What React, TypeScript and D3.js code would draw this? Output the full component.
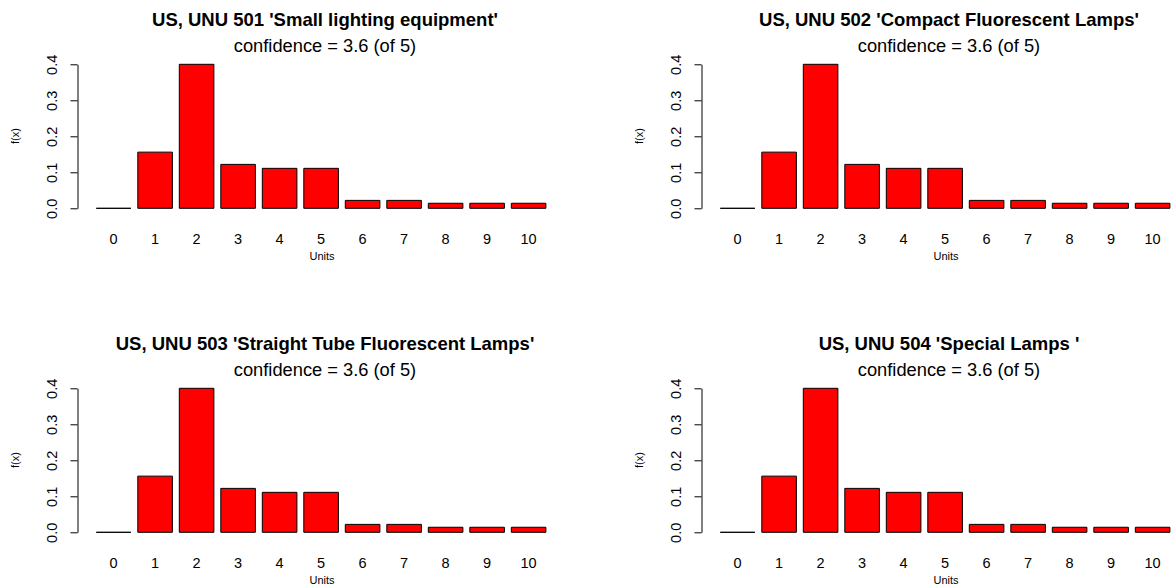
import React, { useEffect, useRef } from "react";
import * as d3 from "d3";

// bar categories (units) and probabilities f(x)
const units = ["0", "1", "2", "3", "4", "5", "6", "7", "8", "9", "10"];
const fx = [0, 0.156, 0.4, 0.122, 0.111, 0.111, 0.022, 0.022, 0.014, 0.014, 0.014];
const yTicks = [0, 0.1, 0.2, 0.3, 0.4];

const titles = [
  "US, UNU 501 'Small lighting equipment'",
  "US, UNU 502 'Compact Fluorescent Lamps'",
  "US, UNU 503 'Straight Tube Fluorescent Lamps'",
  "US, UNU 504 'Special Lamps '",
];
const subtitles = [
  "confidence = 3.6 (of 5)",
  "confidence = 3.6 (of 5)",
  "confidence = 3.6 (of 5)",
  "confidence = 3.6 (of 5)",
];

const W = 1174;
const H = 587;
const FONT = "'Liberation Sans', Arial, Helvetica, sans-serif";

export default function App() {
  const ref = useRef(null);

  useEffect(() => {
    const svg = d3.select(ref.current);
    svg.selectAll("*").remove();

    const axisX = 77.5; // y axis position inside a panel
    const x = d3
      .scaleBand()
      .domain(units)
      .range([96.3, 545.9])
      .paddingInner(1 / 6)
      .paddingOuter(0);
    const y = d3.scaleLinear().domain([0, 0.4]).range([208.3, 64.3]);
    const centerX = 325;

    const offsets = [
      [0, 0],
      [624, 0],
      [0, 324],
      [624, 324],
    ];

    // bar outline as a path so a zero bar still shows as a line
    const barPath = (d, i) => {
      const p = d3.path();
      const x0 = x(units[i]);
      const x1 = x0 + x.bandwidth();
      p.moveTo(x0, y(0));
      p.lineTo(x0, y(d));
      p.lineTo(x1, y(d));
      p.lineTo(x1, y(0));
      p.closePath();
      return p.toString();
    };

    offsets.forEach(([ox, oy], p) => {
      const g = svg.append("g").attr("transform", `translate(${ox},${oy})`);

      // titles
      g.append("text")
        .attr("x", centerX)
        .attr("y", 26)
        .attr("text-anchor", "middle")
        .attr("font-family", FONT)
        .attr("font-weight", 700)
        .attr("font-size", "18.5px")
        .text(titles[p]);
      g.append("text")
        .attr("x", centerX)
        .attr("y", 52)
        .attr("text-anchor", "middle")
        .attr("font-family", FONT)
        .attr("font-size", "18.3px")
        .text(subtitles[p]);

      // bars
      g.append("g")
        .selectAll("path")
        .data(fx)
        .join("path")
        .attr("d", barPath)
        .attr("fill", "#ff0000")
        .attr("stroke", "#000")
        .attr("stroke-width", 1);

      // y axis
      const yAxis = d3.axisLeft(y).tickValues(yTicks).tickSize(7).tickSizeOuter(0).tickFormat(d3.format(".1f"));
      g.append("g")
        .attr("transform", `translate(${axisX},0)`)
        .call(yAxis)
        .call((a) => a.select(".domain").attr("stroke", "#000").attr("stroke-width", 1))
        .call((a) => a.selectAll(".tick line").attr("stroke", "#000"))
        .call((a) =>
          a
            .selectAll(".tick text")
            .attr("transform", "rotate(-90)")
            .attr("x", 0)
            .attr("y", -21)
            .attr("dy", 0)
            .attr("text-anchor", "middle")
            .attr("font-family", FONT)
            .attr("font-size", "14.5px")
            .attr("fill", "#000")
        );

      // x labels
      g.append("g")
        .selectAll("text")
        .data(units)
        .join("text")
        .attr("x", (d) => x(d) + x.bandwidth() / 2)
        .attr("y", 243.5)
        .attr("text-anchor", "middle")
        .attr("font-family", FONT)
        .attr("font-size", "14.5px")
        .text((d) => d);

      g.append("text")
        .attr("x", 322)
        .attr("y", 260)
        .attr("text-anchor", "middle")
        .attr("font-family", FONT)
        .attr("font-size", "11px")
        .text("Units");

      g.append("text")
        .attr("transform", `translate(19,136) rotate(-90)`)
        .attr("text-anchor", "middle")
        .attr("font-family", FONT)
        .attr("font-size", "11px")
        .text("f(x)");
    });
  }, []);

  return (
    <svg
      ref={ref}
      width={W}
      height={H}
      style={{ position: "absolute", left: 0, top: 0, background: "#fff" }}
    />
  );
}
